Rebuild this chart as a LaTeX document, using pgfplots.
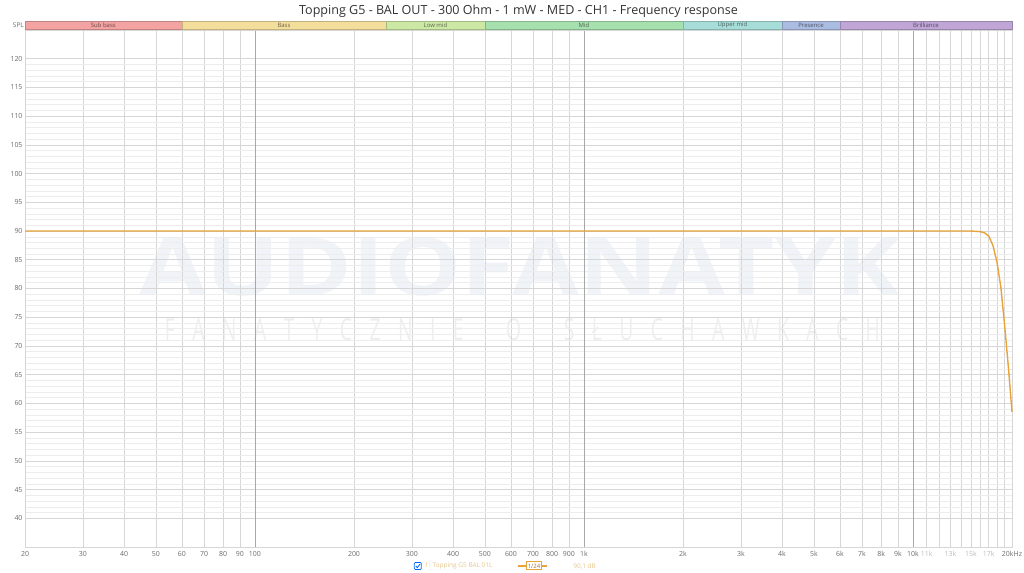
\documentclass[border=0pt]{standalone}
\usepackage{fontspec}
\setmainfont{Open Sans}
\usepackage{graphicx}
\usepackage{pgfplots}
\pgfplotsset{compat=1.18}
\definecolor{curve}{HTML}{E8A33A}
\definecolor{gmaj}{HTML}{D6D6D6}
\definecolor{gmin}{HTML}{EDEDED}
\definecolor{gdec}{HTML}{A8A8A8}
\definecolor{lab}{HTML}{6A6A6A}
\definecolor{lablt}{HTML}{BBBBBB}
\definecolor{bsub}{HTML}{F4A3A3}
\definecolor{bbass}{HTML}{F4DE9C}
\definecolor{blow}{HTML}{CDE8A4}
\definecolor{bmid}{HTML}{A6E0AE}
\definecolor{bupp}{HTML}{A6DDD9}
\definecolor{bpre}{HTML}{ABBCE3}
\definecolor{bbri}{HTML}{BFA6D6}
\definecolor{wm}{HTML}{F0F3F8}
\definecolor{wm2}{HTML}{EEEEEE}
\definecolor{legt}{HTML}{E6C68A}
\begin{document}
\begin{tikzpicture}
\begin{axis}[
  set layers,
  scale only axis, width=987bp, height=517bp,
  xmode=log, log basis x=10,
  xmin=20, xmax=20000, ymin=35, ymax=125,
  xtick={20,30,40,50,60,70,80,90,200,300,400,500,600,700,800,900,2000,3000,4000,5000,6000,7000,8000,9000,11000,12000,13000,14000,15000,16000,17000,18000,19000,20000},
  xticklabels={20,30,40,50,60,70,80,90,200,300,400,500,600,700,800,900,2k,3k,4k,5k,6k,7k,8k,9k,\textcolor{lablt}{11k},{},\textcolor{lablt}{13k},{},\textcolor{lablt}{15k},{},\textcolor{lablt}{17k},{},{},20kHz},
  minor x tick num=0,
  ytick={40,45,...,120},
  minor y tick num=4,
  xmajorgrids=true, ymajorgrids=true, yminorgrids=true, xminorgrids=false,
  major grid style={draw=gmaj, line width=0.6bp},
  minor grid style={draw=gmin, line width=0.5bp},
  extra x ticks={100,1000,10000},
  extra x tick labels={100,1k,10k},
  extra x tick style={grid=major, major grid style={draw=gdec, line width=0.9bp}},
  major tick length=0pt, minor tick length=0pt,
  axis line style={draw=gmaj},
  tick label style={font=\fontsize{7}{8}\selectfont, text=lab},
  xticklabel style={yshift=-1bp},
  yticklabel style={xshift=1bp},
  /pgf/number format/assume math mode=true,
  clip=false,
]
\coordinate (SW) at (rel axis cs:0,0);
\coordinate (NE) at (rel axis cs:1,1);
% watermark (behind grid)
\begin{pgfonlayer}{axis background}
\node[text=wm, inner sep=0pt] at (axis cs:639,83.7) {\resizebox{760bp}{58bp}{\bfseries AUDIOFANATYK}};
\node[text=wm2, inner sep=0pt] at (axis cs:650,72.9) {\resizebox{715bp}{22bp}{F\hspace{0.9em}A\hspace{0.9em}N\hspace{0.9em}A\hspace{0.9em}T\hspace{0.9em}Y\hspace{0.9em}C\hspace{0.9em}Z\hspace{0.9em}N\hspace{0.9em}I\hspace{0.9em}E\hspace{2.2em}O\hspace{2.2em}S\hspace{0.9em}Ł\hspace{0.9em}U\hspace{0.9em}C\hspace{0.9em}H\hspace{0.9em}A\hspace{0.9em}W\hspace{0.9em}K\hspace{0.9em}A\hspace{0.9em}C\hspace{0.9em}H}};
\end{pgfonlayer}
% frequency bands
\foreach \a/\b/\c in {20/60/bsub,60/250/bbass,250/500/blow,500/2000/bmid,2000/4000/bupp,4000/6000/bpre,6000/20000/bbri}{
  \edef\tmp{\noexpand\fill[\c, draw=\c!80!black, line width=0.3bp] ([yshift=1bp]axis cs:\a,125) rectangle ([yshift=9bp]axis cs:\b,125);}\tmp
}
\foreach \m/\t/\c in {34.6/Sub bass/bsub,122.5/Bass/bbass,353.6/Low mid/blow,1000/Mid/bmid,2828/Upper mid/bupp,4899/Presence/bpre,10954/Brilliance/bbri}{
  \edef\tmp{\noexpand\node[text=\c!45!black, font=\noexpand\fontsize{6}{6}\noexpand\selectfont, inner sep=0pt] at ([yshift=5bp]axis cs:\m,125) {\t};}\tmp
}
\node[text=lab, font=\fontsize{6.5}{7}\selectfont, anchor=east, inner sep=0pt] at ([xshift=-1bp,yshift=5bp]axis cs:20,125) {SPL};
% title
\node[font=\fontsize{12.6}{14}\selectfont, text=black!80, inner sep=0pt] at ([yshift=19bp]rel axis cs:0.5,1) {Topping G5 - BAL OUT - 300 Ohm - 1 mW - MED - CH1 - Frequency response};
% data
\addplot[curve, line width=1.4bp] coordinates {
(20,90) (100,90) (1000,90) (10000,90) (15000,90) (15500,89.95) (16000,89.9) (16500,89.7) (17000,89.1) (17500,87.5) (18000,84.6) (18500,80.2) (19000,73.5) (19500,66.3) (20000,58.5)
};
% legend
\draw[draw=blue!60!cyan, line width=0.8bp, rounded corners=1bp] ([xshift=-3.5bp,yshift=-22.5bp]rel axis cs:0.398,0) rectangle ([xshift=3.5bp,yshift=-15.5bp]rel axis cs:0.398,0);
\draw[draw=blue!60!cyan, line width=0.8bp] ([xshift=-2bp,yshift=-19bp]rel axis cs:0.398,0) -- ([xshift=-0.5bp,yshift=-20.7bp]rel axis cs:0.398,0) -- ([xshift=2.2bp,yshift=-17bp]rel axis cs:0.398,0);
\node[anchor=west, text=legt, font=\fontsize{6.5}{7}\selectfont, inner sep=0pt] at ([xshift=0bp,yshift=-19bp]rel axis cs:0.405,0) {1: Topping G5 BAL 01L};
\draw[curve, line width=1.2bp] ([yshift=-19bp]rel axis cs:0.4995,0) -- ([yshift=-19bp]rel axis cs:0.529,0);
\node[draw=curve, fill=white, line width=1bp, text=curve!70!black, font=\fontsize{6}{6}\selectfont, inner sep=1bp, minimum width=15bp, minimum height=8bp] at ([yshift=-19bp]rel axis cs:0.5157,0) {1/24};
\node[text=legt, font=\fontsize{6.5}{7}\selectfont, inner sep=0pt] at ([yshift=-19bp]rel axis cs:0.567,0) {90,1 dB};
\end{axis}
\pgfresetboundingbox
\path[use as bounding box] ([xshift=-25bp,yshift=-26bp]SW) rectangle ([xshift=12bp,yshift=30bp]NE);
\end{tikzpicture}
\end{document}
